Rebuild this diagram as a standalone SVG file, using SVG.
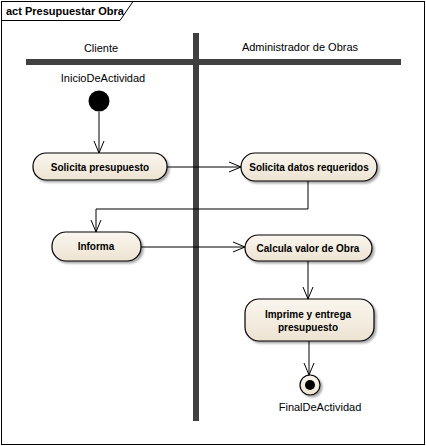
<svg xmlns="http://www.w3.org/2000/svg" width="426" height="446" viewBox="0 0 426 446">
<defs>
<linearGradient id="nf" x1="0" y1="0" x2="0" y2="1">
<stop offset="0" stop-color="#FAF6EF"/>
<stop offset="1" stop-color="#EDE3D2"/>
</linearGradient>
<marker id="arr" markerWidth="14" markerHeight="12" refX="12" refY="6" orient="auto" markerUnits="userSpaceOnUse">
<path d="M0,1 L12,6 L0,11" fill="none" stroke="#000" stroke-width="1"/>
</marker>
<filter id="sh" x="-10%" y="-10%" width="130%" height="140%">
<feOffset dx="2" dy="2" in="SourceAlpha" result="o"/>
<feGaussianBlur in="o" stdDeviation="1" result="b"/>
<feComponentTransfer in="b" result="c"><feFuncA type="linear" slope="0.35"/></feComponentTransfer>
<feMerge><feMergeNode in="c"/><feMergeNode in="SourceGraphic"/></feMerge>
</filter>
</defs>
<style>
.lbl{font-family:"Liberation Sans",Arial,sans-serif;font-size:11px;fill:#000;}
.nt{font-family:"Liberation Sans",Arial,sans-serif;font-size:10px;font-weight:bold;fill:#000;text-anchor:middle;}
.node{fill:url(#nf);stroke:#000;stroke-width:1.2;filter:url(#sh);}
.bar{stroke:#404040;stroke-width:6;stroke-linecap:butt;}
.con{fill:none;stroke:#000;stroke-width:1;marker-end:url(#arr);}
</style>
<rect x="0" y="0" width="426" height="446" fill="#fff"/>
<g id="frame">
<rect x="1.5" y="1.5" width="423" height="443" fill="none" stroke="#000" stroke-width="1"/>
<path d="M1.5,20.5 H120 L133,1.5" fill="none" stroke="#000" stroke-width="1"/>
<text x="6" y="15" font-family="Liberation Sans,Arial,sans-serif" font-size="11" font-weight="bold">act Presupuestar Obra</text>
</g>
<g id="lanes">
<line class="bar" x1="26" y1="62" x2="401" y2="62"/>
<line class="bar" x1="196" y1="33" x2="196" y2="421"/>
<text class="lbl" x="101" y="52" text-anchor="middle">Cliente</text>
<text class="lbl" x="300" y="51" text-anchor="middle">Administrador de Obras</text>
</g>
<g id="connectors">
<path class="con" d="M99,112 V153"/>
<path class="con" d="M167,167 H241"/>
<path class="con" d="M308,181 V209 H96 V232"/>
<path class="con" d="M141,247 H245"/>
<path class="con" d="M308,261 V299"/>
<path class="con" d="M309,341 V375"/>
</g>
<g id="start">
<text class="lbl" x="103" y="82" text-anchor="middle">InicioDeActividad</text>
<circle cx="99" cy="101" r="10.5" fill="#000"/>
</g>
<g id="solicita-presupuesto">
<rect class="node" x="33" y="153" width="134" height="27" rx="13" ry="13"/>
<text class="nt" x="100" y="170.5">Solicita presupuesto</text>
</g>
<g id="solicita-datos">
<rect class="node" x="241" y="153" width="136" height="28" rx="14" ry="14"/>
<text class="nt" x="309" y="171">Solicita datos requeridos</text>
</g>
<g id="informa">
<rect class="node" x="52" y="232" width="89" height="29" rx="14" ry="14"/>
<text class="nt" x="96" y="250">Informa</text>
</g>
<g id="calcula">
<rect class="node" x="245" y="235" width="127" height="26" rx="13" ry="13"/>
<text class="nt" x="308" y="252">Calcula valor de Obra</text>
</g>
<g id="imprime">
<rect class="node" x="245" y="299" width="129" height="42" rx="14" ry="14"/>
<text class="nt" x="308" y="318">Imprime y entrega</text>
<text class="nt" x="308" y="330.5">presupuesto</text>
</g>
<g id="final">
<circle cx="310" cy="385" r="10" fill="url(#nf)" stroke="#000" stroke-width="1.2" filter="url(#sh)"/>
<circle cx="310" cy="385" r="5" fill="#000"/>
<text class="lbl" x="320" y="411" text-anchor="middle">FinalDeActividad</text>
</g>
</svg>
